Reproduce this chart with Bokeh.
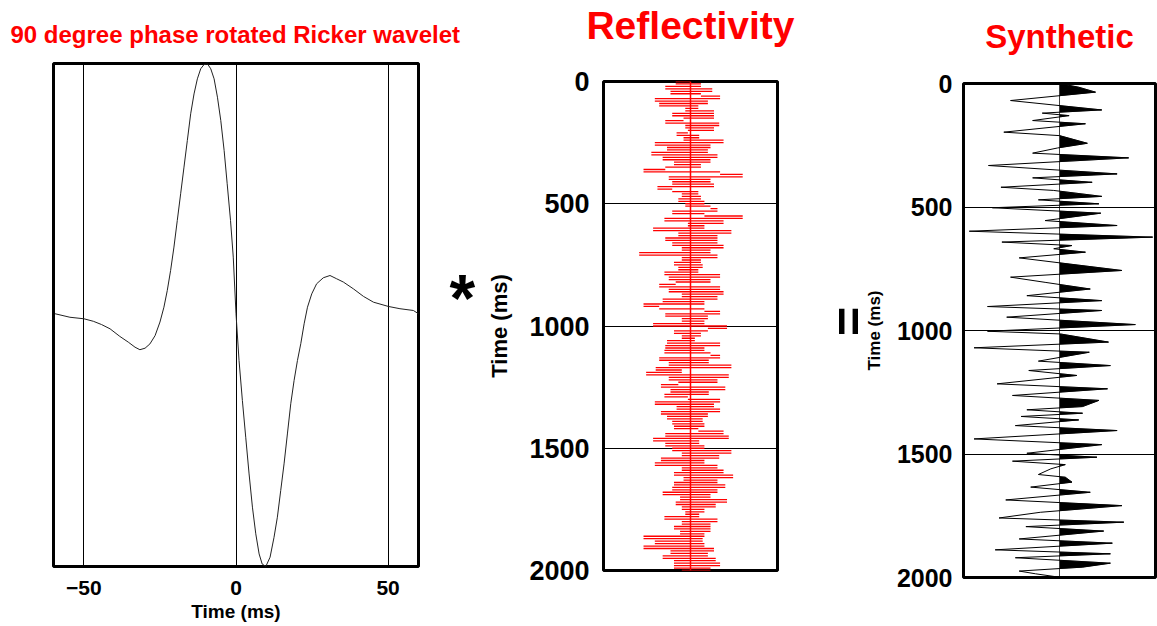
from bokeh.plotting import figure
from bokeh.layouts import row, column
from bokeh.models import Range1d, FixedTicker, LinearAxis
from bokeh.embed import file_html
from bokeh.resources import INLINE

# ---------------- data ----------------
wavelet_t = [-59.5, -54.6, -50.0, -46.9, -44.2, -41.4, -38.2, -35.4, -33.2, -31.6, -29.9, -28.3, -26.6, -25.0,
             -23.7, -22.6, -21.5, -20.4, -19.3, -18.2, -17.1, -16.0, -14.9, -13.8, -12.7, -11.6, -10.5, -9.4,
             -8.3, -7.2, -6.1, -5.0, -3.9, -2.9, -1.8, -0.9, 0.0, 1.0, 2.1, 3.2, 4.3, 5.4, 6.5, 7.6, 8.6, 9.8,
             11.2, 12.5, 13.6, 14.7, 15.8, 16.9, 18.0, 19.1, 20.2, 21.3, 22.4, 23.5, 24.9, 26.5, 28.7, 30.9,
             33.1, 35.3, 38.6, 41.9, 45.2, 50.1, 53.9, 58.3, 60.0]
wavelet_amp = [0.005, -0.009, -0.015, -0.025, -0.038, -0.055, -0.085, -0.108, -0.128, -0.138, -0.132, -0.115,
               -0.082, -0.028, 0.031, 0.097, 0.177, 0.270, 0.376, 0.482, 0.588, 0.694, 0.800, 0.879, 0.939,
               0.979, 0.996, 0.999, 0.979, 0.939, 0.866, 0.773, 0.654, 0.522, 0.376, 0.230, 0.005, -0.181,
               -0.340, -0.486, -0.632, -0.764, -0.870, -0.950, -0.990, -1.000, -0.963, -0.884, -0.804, -0.698,
               -0.592, -0.473, -0.353, -0.260, -0.181, -0.114, -0.035, 0.031, 0.084, 0.124, 0.148, 0.157, 0.144,
               0.131, 0.104, 0.074, 0.051, 0.034, 0.025, 0.018, 0.005]
wavelet_ticks = [-50, 0, 50]

refl_dt = 10  # ms sample interval
refl_amp = [
    -0.17, 0.12, -0.29, 0.25, -0.23, 0.12, 0.34, -0.41, 0.20, -0.36,
    0.09, -0.06, 0.27, -0.21, 0.27, -0.08, -0.29, 0.33, -0.06, 0.27,
    -0.03, -0.16, 0.10, -0.08, 0.38, -0.41, 0.23, -0.27, 0.20, -0.45,
    0.31, -0.32, 0.23, -0.19, 0.12, -0.29, -0.54, 0.34, 0.60, -0.25,
    0.23, -0.21, 0.27, -0.38, -0.21, 0.09, -0.10, 0.12, -0.14, 0.16,
    -0.06, 0.23, 0.31, -0.21, 0.16, 0.60, -0.30, 0.38, -0.03, 0.16,
    -0.43, 0.47, -0.14, 0.31, -0.29, 0.31, -0.21, 0.38, -0.10, 0.23,
    -0.59, 0.31, -0.10, 0.12, -0.19, 0.14, -0.14, 0.09, -0.30, 0.34,
    -0.25, 0.23, -0.17, -0.36, 0.34, -0.25, 0.38, -0.10, 0.31, -0.32,
    0.16, -0.54, -0.36, 0.16, 0.34, -0.29, 0.20, -0.10, 0.16, -0.43,
    0.42,
    0.20, -0.19, 0.12, -0.10, 0.05, -0.27, 0.34, -0.29, 0.16, -0.30,
    0.23, 0.34, -0.36, 0.21, -0.25, 0.47, -0.40, -0.10, -0.51, 0.44,
    -0.25, 0.31, -0.14, -0.34, 0.40, -0.23, 0.21, -0.30, -0.03, 0.34,
    -0.41, 0.27, -0.16, 0.34, -0.34, 0.20, -0.27, 0.14, -0.21, 0.16,
    -0.19, 0.09, 0.38, -0.29, 0.44, -0.43, 0.10, -0.29, 0.16, -0.21,
    0.47, -0.10, 0.33, -0.34, 0.16, -0.41, 0.31, -0.10, 0.38, -0.19,
    0.49, -0.08, 0.31, -0.19, 0.40, -0.21, 0.31, -0.32, 0.23, -0.12,
    0.42, -0.17, 0.29, -0.10, 0.16, -0.06, 0.10, -0.30, 0.31, -0.10,
    0.23, -0.19, 0.23, -0.12, 0.16, -0.54, 0.14, -0.41, 0.16, -0.54,
    0.27, -0.23, 0.20, -0.32, 0.29, -0.19, 0.34, -0.19, 0.23, -0.10,
]
refl_t = [i * refl_dt for i in range(len(refl_amp))]

synth_t = [0, 15, 35, 69, 107, 120, 130, 150, 163, 197, 211, 242, 261, 282, 301, 332, 366, 382, 400, 420,
           433, 457, 471, 487, 503, 525, 555, 575, 598, 622, 642, 656, 669, 683, 706, 757, 784, 805, 832, 859,
           879, 903, 919, 946, 976, 1003, 1014, 1047, 1070, 1088, 1124, 1142, 1162, 1182, 1216, 1236, 1263, 1283,
           1308, 1321, 1335, 1348, 1362, 1385, 1405, 1439, 1462, 1497, 1513, 1529, 1543, 1560, 1583, 1594, 1614,
           1634, 1655, 1686, 1709, 1736, 1759, 1776, 1794, 1812, 1844, 1861, 1888, 1904, 1920, 1942, 1958, 1974,
           1985, 1999]
synth_amp = [0.0, 0.20, 0.375, -0.51, 0.44, -0.18, 0.10, -0.28, 0.27, -0.58, 0.0, 0.29, -0.02, -0.28, 0.72,
             -0.74, 0.60, -0.28, 0.34, -0.61, -0.06, 0.44, -0.22, 0.41, -0.70, 0.43, -0.15, 0.60, -0.94, 0.97,
             -0.60, 0.13, -0.06, 0.27, -0.42, 0.65, -0.51, -0.15, 0.32, -0.34, 0.44, -0.75, 0.44, -0.55, 0.79,
             -0.75, 0.01, 0.51, -0.89, 0.31, -0.22, 0.53, -0.32, 0.18, -0.65, 0.50, -0.49, 0.41, 0.24, -0.34,
             0.24, -0.40, 0.20, -0.46, 0.60, -0.89, 0.44, -0.34, 0.39, -0.49, 0.06, -0.09, -0.22, 0.06, 0.13,
             -0.30, 0.32, -0.56, 0.65, -0.20, -0.63, 0.67, -0.35, 0.46, -0.42, 0.55, -0.67, 0.53, -0.46, 0.53,
             0.24, -0.42, -0.25, 0.0]
time_ticks = [0, 500, 1000, 1500, 2000]

FONT = "Liberation Sans"
RED = "#ff0000"


def style_common(p):
    p.outline_line_color = "black"
    p.outline_line_width = 3
    p.background_fill_color = "white"
    p.border_fill_color = "white"
    p.min_border = 0


def style_axis(ax, tick_size, label_size, tick_standoff, label_standoff):
    ax.axis_line_color = None
    ax.major_tick_line_color = None
    ax.minor_tick_line_color = None
    ax.major_label_text_font = FONT
    ax.major_label_text_font_style = "bold"
    ax.major_label_text_font_size = tick_size
    ax.major_label_text_color = "black"
    ax.major_label_standoff = tick_standoff
    ax.axis_label_text_font = FONT
    ax.axis_label_text_font_style = "bold"
    ax.axis_label_text_font_size = label_size
    ax.axis_label_text_color = "black"
    ax.axis_label_standoff = label_standoff


def symbol_axis(value, symbol, size, standoff, orientation="horizontal"):
    ax = LinearAxis(ticker=FixedTicker(ticks=[value]), major_label_overrides={value: symbol})
    ax.axis_line_color = None
    ax.major_tick_line_color = None
    ax.minor_tick_line_color = None
    ax.major_tick_out = 0
    ax.minor_tick_out = 0
    ax.major_label_text_font = FONT
    ax.major_label_text_font_style = "bold"
    ax.major_label_text_font_size = size
    ax.major_label_text_color = "black"
    ax.major_label_standoff = standoff
    ax.major_label_orientation = orientation
    return ax


def title_axis(text, size, standoff):
    ax = LinearAxis(ticker=FixedTicker(ticks=[]), axis_label=text)
    ax.axis_line_color = None
    ax.major_tick_line_color = None
    ax.minor_tick_line_color = None
    ax.major_tick_out = 0
    ax.minor_tick_out = 0
    ax.major_label_standoff = 0
    ax.axis_label_standoff = standoff
    ax.axis_label_text_font = FONT
    ax.axis_label_text_font_style = "bold"
    ax.axis_label_text_font_size = size
    ax.axis_label_text_color = RED
    return ax


# ---------------- panel 1: wavelet ----------------
p1 = figure(width=484, height=626, output_backend="svg", toolbar_location=None,
            x_range=Range1d(-60, 60), y_range=Range1d(-1.0, 1.0),
            y_axis_location=None, title="90 degree phase rotated Ricker wavelet")
style_common(p1)
p1.min_border_left = 53
p1.min_border_right = 66
p1.min_border_top = 63
p1.min_border_bottom = 60
p1.title.text_color = RED
p1.title.text_font = FONT
p1.title.text_font_style = "bold"
p1.title.text_font_size = "24px"
p1.title.vertical_align = "top"
p1.title.standoff = 27
p1.title.align = "left"
p1.title.offset = -43
p1.line(wavelet_t, wavelet_amp, line_color="#222222", line_width=1)
xa = p1.xaxis[0]
xa.ticker = FixedTicker(ticks=wavelet_ticks)
xa.axis_label = "Time (ms)"
style_axis(xa, "21px", "19px", 8, 3)
p1.xgrid.grid_line_color = "black"
p1.xgrid.grid_line_width = 1
p1.xgrid.grid_line_alpha = 1
p1.ygrid.grid_line_color = None
p1.add_layout(symbol_axis(0.066, "*", "66px", 31), "right")

# ---------------- panel 2: reflectivity ----------------
p2 = figure(width=316, height=626, output_backend="svg", toolbar_location=None,
            x_range=Range1d(-1, 1), y_range=Range1d(2000, 0),
            x_axis_location=None)
style_common(p2)
p2.min_border_left = 112
p2.min_border_right = 23
p2.min_border_top = 80
p2.min_border_bottom = 56
p2.add_layout(title_axis("Reflectivity", "39px", 35), "above")

# trace: horizontal connections between consecutive samples (as the dense trace looks)
p2.line([0, 0], [refl_t[0], refl_t[-1]], line_color=RED, line_width=1.5)
p2.segment(x0=refl_amp[:-1], y0=refl_t[1:], x1=refl_amp[1:], y1=refl_t[1:],
           line_color=RED, line_width=1.3)
p2.segment(x0=[0], y0=[refl_t[0]], x1=[refl_amp[0]], y1=[refl_t[0]], line_color=RED, line_width=1.3)
ya = p2.yaxis[0]
ya.ticker = FixedTicker(ticks=time_ticks)
ya.axis_label = "Time (ms)"
style_axis(ya, "27px", "22px", 8, 14)
p2.ygrid.grid_line_color = "black"
p2.ygrid.grid_line_alpha = 1
p2.ygrid.grid_line_width = 1
p2.xgrid.grid_line_color = None

# ---------------- panel 3: synthetic ----------------
p3 = figure(width=357, height=626, output_backend="svg", toolbar_location=None,
            x_range=Range1d(-1, 1), y_range=Range1d(2000, 0),
            x_axis_location=None)
style_common(p3)
p3.min_border_left = 163
p3.min_border_right = 2
p3.min_border_top = 83
p3.min_border_bottom = 49
p3.add_layout(title_axis("Synthetic", "33px", 29), "above")

# positive-lobe fill polygon
px, py = [0.0], [synth_t[0]]
for i in range(len(synth_t)):
    a = synth_amp[i]
    if i > 0:
        a0 = synth_amp[i - 1]
        if (a0 > 0) != (a > 0) and a0 != a:
            f = a0 / (a0 - a)
            px.append(0.0)
            py.append(synth_t[i - 1] + f * (synth_t[i] - synth_t[i - 1]))
    px.append(max(a, 0.0))
    py.append(synth_t[i])
px.append(0.0)
py.append(synth_t[-1])
p3.patch(px, py, fill_color="black", line_color="black", line_width=0.5)
p3.line(synth_amp, synth_t, line_color="black", line_width=1)

ya3 = p3.yaxis[0]
ya3.ticker = FixedTicker(ticks=time_ticks)
ya3.axis_label = "Time (ms)"
style_axis(ya3, "25px", "17px", 5, 10)
p3.ygrid.grid_line_color = "black"
p3.ygrid.grid_line_alpha = 1
p3.ygrid.grid_line_width = 1
p3.xgrid.grid_line_color = None
p3.add_layout(symbol_axis(963, "=", "50px", -16, "vertical"), "left")

layout = row(column(p1), column(p2), column(p3))
open("out.html", "w").write(file_html(layout, INLINE))
